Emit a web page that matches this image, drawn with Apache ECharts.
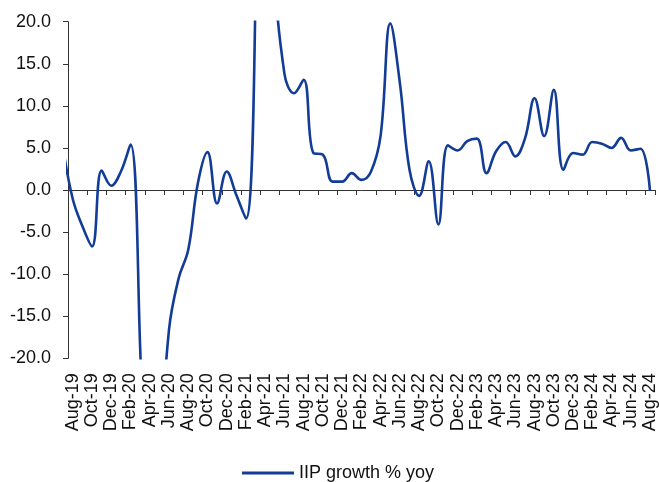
<!DOCTYPE html>
<html>
<head>
<meta charset="utf-8">
<script src="https://cdn.jsdelivr.net/npm/echarts@6/dist/echarts.min.js"></script>
<style>
html,body{margin:0;padding:0;background:#fff;}
#chart{width:659px;height:482px;}
</style>
</head>
<body>
<div id="chart"></div>
<script>
// Months (first one, Jul-19, lies just left of the axis start and is clipped)
const months = [
  'Jul-19','Aug-19','Sep-19','Oct-19','Nov-19','Dec-19',
  'Jan-20','Feb-20','Mar-20','Apr-20','May-20','Jun-20','Jul-20','Aug-20','Sep-20','Oct-20','Nov-20','Dec-20',
  'Jan-21','Feb-21','Mar-21','Apr-21','May-21','Jun-21','Jul-21','Aug-21','Sep-21','Oct-21','Nov-21','Dec-21',
  'Jan-22','Feb-22','Mar-22','Apr-22','May-22','Jun-22','Jul-22','Aug-22','Sep-22','Oct-22','Nov-22','Dec-22',
  'Jan-23','Feb-23','Mar-23','Apr-23','May-23','Jun-23','Jul-23','Aug-23','Sep-23','Oct-23','Nov-23','Dec-23',
  'Jan-24','Feb-24','Mar-24','Apr-24','May-24','Jun-24','Jul-24','Aug-24'
];
const iipGrowth = [
  4.9, -1.1, -4.3, -6.7, 2.3, 0.5,
  2.2, 5.4, -18.7, -57.3, -33.4, -16.6, -10.5, -7.1, 0.8, 4.5, -1.6, 2.2,
  -0.6, -3.4, 24.2, 134.0, 27.6, 13.8, 11.5, 13.1, 4.4, 4.2, 1.0, 1.0,
  2.0, 1.2, 2.2, 6.5, 19.8, 12.7, 2.4, -0.7, 3.4, -4.1, 5.3, 4.7,
  5.8, 6.1, 2.0, 4.6, 5.7, 4.0, 6.1, 10.9, 6.4, 11.9, 2.4, 4.4,
  4.2, 5.7, 5.5, 5.0, 6.2, 4.7, 4.9, -0.1
];
const seriesName = 'IIP growth % yoy';
const yMin = -20, yMax = 20, yStep = 5;

const FONT = "'Liberation Sans', Arial, sans-serif";
const LINE_COLOR = '#123C96';
const AXIS_COLOR = '#333333';
const TEXT_COLOR = '#111111';
const everyOther = (idx) => idx % 2 === 1;

const chart = echarts.init(document.getElementById('chart'), null, {renderer: 'canvas'});
chart.setOption({
  animation: false,
  backgroundColor: '#ffffff',
  textStyle: {fontFamily: FONT},
  grid: {left: 68, right: 4, top: 21.7, bottom: 123.7, containLabel: false},
  legend: {
    data: [seriesName],
    icon: 'rect',
    itemWidth: 52,
    itemHeight: 3,
    left: 237,
    top: 459,
    textStyle: {fontFamily: FONT, fontSize: 18, color: TEXT_COLOR}
  },
  xAxis: [
    {
      type: 'category',
      data: months,
      min: 1,
      boundaryGap: true,
      position: 'bottom',
      axisLine: {show: false, onZero: false},
      axisTick: {show: false},
      splitLine: {show: false},
      axisLabel: {
        interval: everyOther,
        rotate: 90,
        margin: 15,
        fontSize: 18,
        fontFamily: FONT,
        color: TEXT_COLOR
      }
    },
    {
      type: 'category',
      data: months,
      min: 1,
      boundaryGap: true,
      position: 'bottom',
      axisLine: {show: true, onZero: true, lineStyle: {color: AXIS_COLOR, width: 1}},
      axisTick: {show: true, inside: false, length: 5, interval: everyOther, lineStyle: {color: AXIS_COLOR, width: 1}},
      axisLabel: {show: false},
      splitLine: {show: false}
    }
  ],
  yAxis: {
    type: 'value',
    min: yMin,
    max: yMax,
    interval: yStep,
    axisLine: {show: true, onZero: false, lineStyle: {color: AXIS_COLOR, width: 1}},
    axisTick: {show: true, inside: false, length: 5, lineStyle: {color: AXIS_COLOR, width: 1}},
    splitLine: {show: false},
    axisLabel: {
      margin: 17,
      fontSize: 18,
      fontFamily: FONT,
      color: TEXT_COLOR,
      formatter: (v) => v.toFixed(1)
    }
  },
  series: [{
    name: seriesName,
    type: 'line',
    xAxisIndex: 0,
    data: iipGrowth,
    smooth: 0.4,
    symbol: 'none',
    clip: true,
    lineStyle: {color: LINE_COLOR, width: 2.6},
    itemStyle: {color: LINE_COLOR}
  }]
});
</script>
</body>
</html>
